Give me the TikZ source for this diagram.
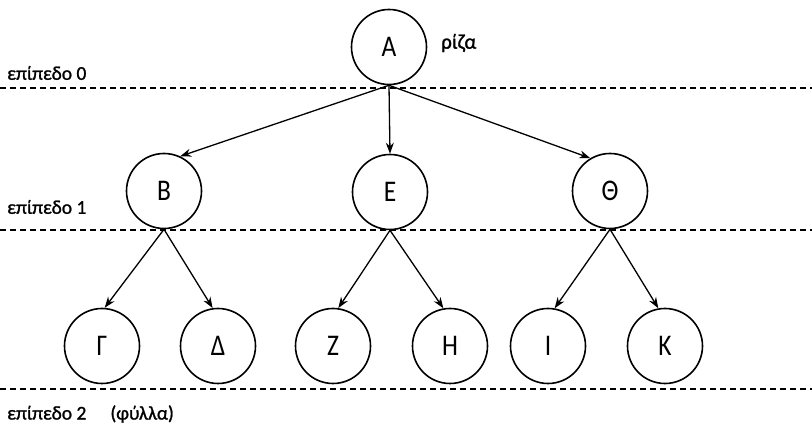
\documentclass[tikz,border=0pt]{standalone}
\usepackage{fontspec}
\setmainfont{Carlito}
\newfontfamily\circfont[FakeStretch=0.85]{Carlito}
\newfontfamily\lblfont[FakeBold=1.2]{Carlito}
\usetikzlibrary{arrows.meta}
\begin{document}
\begin{tikzpicture}[x=1pt,y=-1pt,
  tnode/.style={circle,draw,line width=1.6pt,minimum size=75pt,inner sep=0pt,font=\circfont\fontsize{30}{32}\selectfont},
  edge/.style={line width=1.3pt,-{Stealth[length=11pt,width=8pt]}},
  level/.style={dash pattern=on 6pt off 4pt},
  lbl/.style={font=\lblfont\fontsize{19.5}{22}\selectfont,inner sep=0pt,anchor=west}]
\useasboundingbox (0,0) rectangle (812,430);
\node[tnode] (A) at (389,47) {Α};
\node[tnode] (B) at (164,191) {Β};
\node[tnode] (E) at (390,192) {Ε};
\node[tnode] (T) at (610,191) {Θ};
\node[tnode] (G) at (102,346) {Γ};
\node[tnode] (D) at (218,346) {Δ};
\node[tnode] (Z) at (333,346) {Ζ};
\node[tnode] (H) at (450,346) {Η};
\node[tnode] (I) at (548,346) {Ι};
\node[tnode] (K) at (665,346) {Κ};
\node[lbl,font=\lblfont\fontsize{21}{24}\selectfont] (rz) at (441,43) {ρίζα};
\node[lbl] (l0) at (7,73) {επίπεδο 0};
\node[lbl] (l1) at (7,207) {επίπεδο 1};
\node[lbl] (l2) at (7,414) {επίπεδο 2\hspace{24pt}(φύλλα)};
\coordinate (a0) at (0,88); \coordinate (b0) at (812,88);
\coordinate (a1) at (0,230); \coordinate (b1) at (812,230);
\coordinate (a2) at (0,389); \coordinate (b2) at (812,389);
\draw[level,line width=1.9pt] (a0) -- (b0);
\draw[level,line width=1.1pt] (a1) -- (b1);
\draw[level,line width=1.6pt] (a2) -- (b2);
\draw[edge] (A.south) -- (B.65);
\draw[edge] (A.south) -- (E.north);
\draw[edge] (A.south) -- (T.121);
\draw[edge] (B.south) -- (G.86);
\draw[edge] (B.south) -- (D.98);
\draw[edge] (E.south) -- (Z.82);
\draw[edge] (E.south) -- (H.100);
\draw[edge] (T.south) -- (I.80);
\draw[edge] (T.south) -- (K.100);
\end{tikzpicture}
\end{document}
